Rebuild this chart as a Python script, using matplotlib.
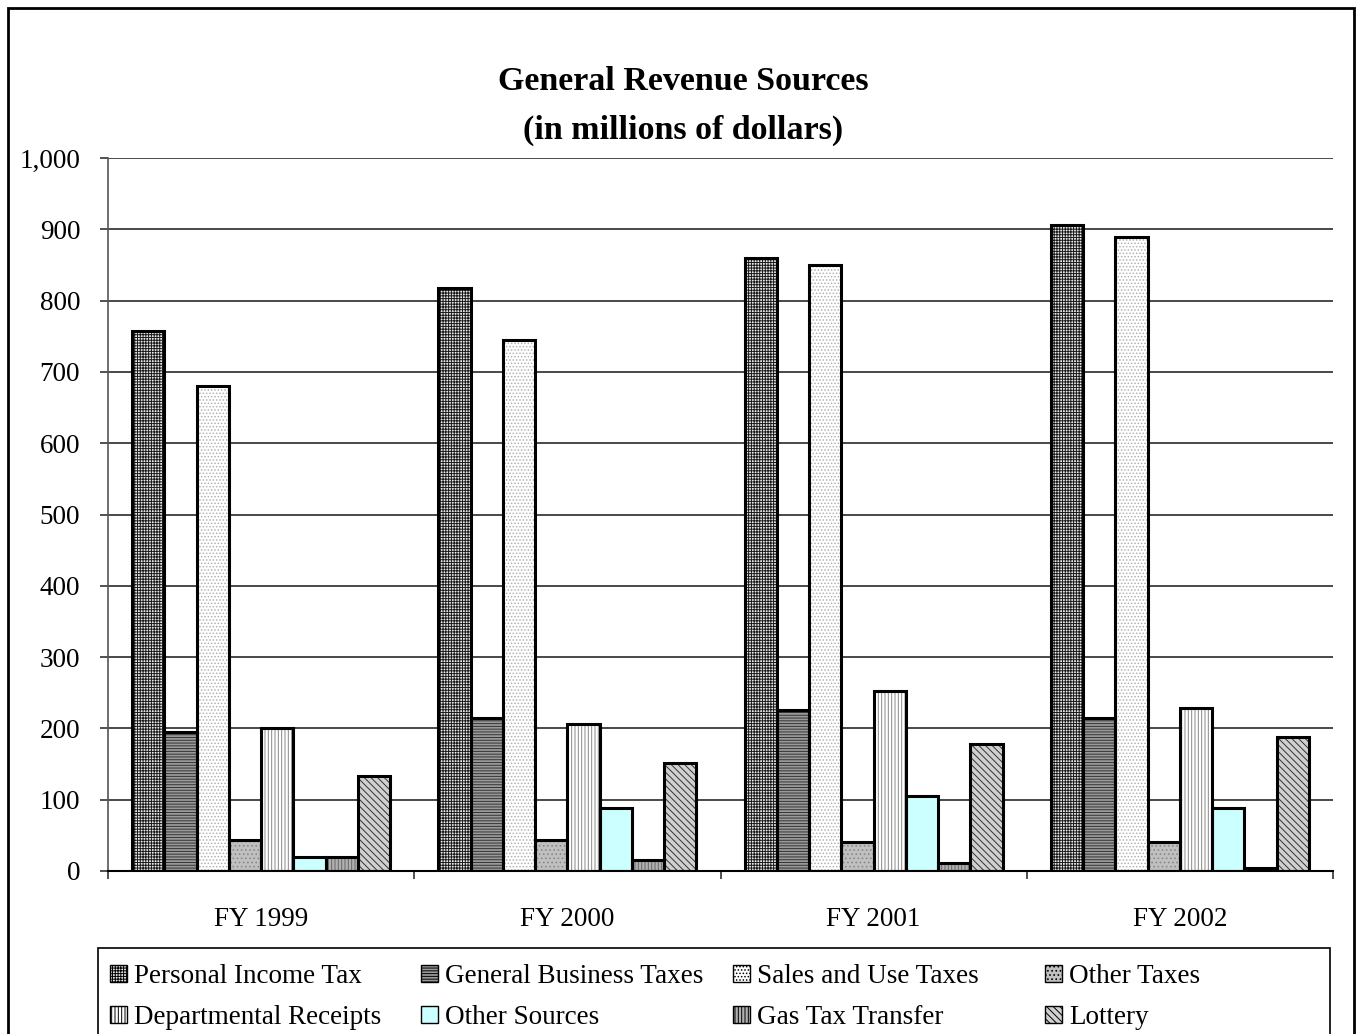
import matplotlib
matplotlib.use('Agg')
import matplotlib.pyplot as plt
import numpy as np
from matplotlib.patches import Rectangle, Patch
from matplotlib.ticker import FuncFormatter, FixedLocator

years = ['FY 1999', 'FY 2000', 'FY 2001', 'FY 2002']
series_names = ['Personal Income Tax', 'General Business Taxes', 'Sales and Use Taxes',
                'Other Taxes', 'Departmental Receipts', 'Other Sources',
                'Gas Tax Transfer', 'Lottery']
personal_income_tax = [758, 818, 860, 906]
general_business_taxes = [195, 215, 226, 215]
sales_and_use_taxes = [680, 745, 850, 889]
other_taxes = [44, 44, 40, 40]
departmental_receipts = [200, 206, 252, 229]
other_sources = [20, 88, 105, 89]
gas_tax_transfer = [20, 15, 11, 4]
lottery = [133, 151, 178, 188]
yticks = [0, 100, 200, 300, 400, 500, 600, 700, 800, 900, 1000]

values = [personal_income_tax, general_business_taxes, sales_and_use_taxes, other_taxes,
          departmental_receipts, other_sources, gas_tax_transfer, lottery]

# style: (facecolor, hatch, hatchcolor)
styles = [
    ('#e8e8e8', '++++++', '#1a1a1a'),
    ('#9a9a9a', '------', '#333333'),
    ('#ffffff', '.....', '#b0b0b0'),
    ('#c0c0c0', '....', '#888888'),
    ('#ffffff', '|||||', '#888888'),
    ('#ccffff', None, None),
    ('#b0b0b0', '|||||', '#666666'),
    ('#d0d0d0', '\\\\\\\\\\', '#333333'),
]

plt.rcParams['font.family'] = ['Liberation Serif', 'DejaVu Serif']
plt.rcParams['hatch.linewidth'] = 0.7

W, H = 1357, 1034
fig = plt.figure(figsize=(W / 100, H / 100), dpi=100)
ax = fig.add_axes([108 / W, 1 - 871 / H, (1333 - 108) / W, (871 - 158) / H])

n = len(values)
gap = 1.5
w = 1.0 / (n + gap)
x = np.arange(len(years))
handles = []
for i, (vals, (fc, hatch, hc)) in enumerate(zip(values, styles)):
    pos = x - 0.5 + gap * w / 2 + w * i + w / 2
    if hatch:
        ax.bar(pos, vals, width=w, color=fc, hatch=hatch, edgecolor=hc, linewidth=0, zorder=3)
    else:
        ax.bar(pos, vals, width=w, color=fc, linewidth=0, zorder=3)
    ax.bar(pos, vals, width=w, fill=False, edgecolor='black', linewidth=2.2, zorder=4)
    h = Patch(facecolor=fc, hatch=hatch, edgecolor='black', linewidth=1.0)
    handles.append(h)

ax.set_xlim(-0.5, len(years) - 0.5)
ax.set_ylim(0, 1000)
ax.set_yticks(yticks)
ax.yaxis.set_major_formatter(FuncFormatter(lambda v, p: f'{int(v):,}'))
ax.yaxis.grid(True, color='#3a3a3a', linewidth=1.3, zorder=0)
ax.set_axisbelow(True)

ax.set_xticks(x)
ax.set_xticklabels(years)
ax.xaxis.set_minor_locator(FixedLocator(np.arange(-0.5, len(years), 1.0)))
ax.tick_params(axis='x', which='major', length=0, pad=26, labelsize=19.5)
ax.tick_params(axis='x', which='minor', length=6, width=1.2, direction='out', color='#333333')
ax.tick_params(axis='y', length=6, width=1.2, direction='out', color='#333333', labelsize=19.5, pad=14)

for s in ['top', 'right']:
    ax.spines[s].set_visible(False)
ax.spines['left'].set_color('#555555')
ax.spines['left'].set_linewidth(1.2)
ax.spines['bottom'].set_color('black')
ax.spines['bottom'].set_linewidth(1.5)
ax.spines['bottom'].set_zorder(5)

fig.text(683 / W, 1 - 82 / H, 'General Revenue Sources', ha='center', va='center',
         fontsize=24.5, fontweight='bold')
fig.text(683 / W, 1 - 130 / H, '(in millions of dollars)', ha='center', va='center',
         fontsize=24.5, fontweight='bold')

# legend: frame + one legend per column (rows: first four series, then last four)
fig.patches.append(Rectangle((98 / W, -0.02), (1330 - 98) / W, (1034 - 948) / H + 0.02,
                             transform=fig.transFigure, fill=True, facecolor='white',
                             edgecolor='black', linewidth=1.2, zorder=1))
col_x = [110, 421, 733, 1045]
for c in range(4):
    idx = [c, c + 4]
    lg = fig.legend([handles[i] for i in idx], [series_names[i] for i in idx],
                    ncol=1, loc='upper left',
                    bbox_to_anchor=(col_x[c] / W, 1 - 964 / H),
                    frameon=False, fontsize=19.5, handlelength=0.62, handleheight=0.62,
                    handletextpad=0.28, borderaxespad=0, borderpad=0, labelspacing=0.6)
    lg.set_zorder(3)

fig.patches.append(Rectangle((8 / W, -0.01), (1354 - 8) / W, 1 - 8 / H + 0.01,
                             transform=fig.transFigure, fill=False, edgecolor='black',
                             linewidth=2.0, zorder=2))

fig.savefig('out.png', dpi=100)
